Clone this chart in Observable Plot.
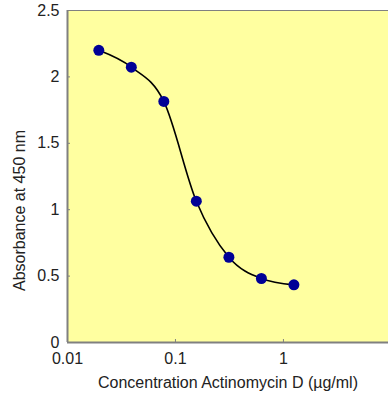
<!DOCTYPE html>
<html>
<head>
<meta charset="utf-8">
<script src="https://cdn.jsdelivr.net/npm/d3@7"></script>
<script src="https://cdn.jsdelivr.net/npm/@observablehq/plot@0.6"></script>
<style>
  html, body { margin: 0; padding: 0; background: #ffffff; }
  #chart svg { display: block; }
</style>
</head>
<body>
<div id="chart"></div>
<script>
// Concentration of Actinomycin D (µg/ml)
const concentration = [0.0195, 0.039, 0.078, 0.156, 0.3125, 0.625, 1.25];
// Absorbance at 450 nm
const absorbance = [2.2, 2.073, 1.815, 1.064, 0.642, 0.482, 0.434];
const xTicks = [0.01, 0.1, 1];
const xTickLabels = ["0.01", "0.1", "1"];
const yTicks = [0, 0.5, 1, 1.5, 2, 2.5];
const yTickLabels = ["0", "0.5", "1", "1.5", "2", "2.5"];
const xTitle = "Concentration Actinomycin D (µg/ml)";
const yTitle = "Absorbance at 450 nm";

const data = concentration.map((c, i) => ({c, a: absorbance[i]}));
const font = "Liberation Sans, Arial, Helvetica, sans-serif";

const chart = Plot.plot({
  width: 388,
  height: 396,
  marginLeft: 67,
  marginRight: 0,
  marginTop: 10,
  marginBottom: 54,
  style: {fontFamily: font, fontSize: "16px", color: "#222", background: "#ffffff"},
  x: {type: "log", domain: [0.01, 9.4]},
  y: {domain: [0, 2.5]},
  marks: [
    Plot.frame({fill: "#ffffa0", stroke: "none"}),
    Plot.ruleY([2.5], {stroke: "#808080", strokeWidth: 1}),
    Plot.axisX({
      ticks: xTicks,
      tickFormat: (d) => xTickLabels[xTicks.indexOf(d)],
      tickSize: -3,
      tickPadding: 13,
      stroke: "#808080",
      fontSize: 16,
      label: xTitle,
      labelAnchor: "center",
      labelOffset: 45,
      labelArrow: "none"
    }),
    Plot.axisY({
      ticks: yTicks,
      tickFormat: (d) => yTickLabels[yTicks.indexOf(d)],
      tickSize: -3,
      tickPadding: 11,
      stroke: "#808080",
      fontSize: 16,
      label: null
    }),
    Plot.text([yTitle], {
      frameAnchor: "left",
      textAnchor: "middle",
      rotate: -90,
      dx: -48,
      dy: 34,
      fontSize: 16,
      fill: "#222"
    }),
    Plot.ruleX([0.01], {stroke: "#808080", strokeWidth: 2}),
    Plot.ruleY([0], {stroke: "#808080", strokeWidth: 2}),
    Plot.line(data, {x: "c", y: "a", curve: "monotone-x", stroke: "#000000", strokeWidth: 1.6}),
    Plot.dot(data, {x: "c", y: "a", r: 5.5, fill: "#000096", stroke: "none"})
  ]
});
document.getElementById("chart").appendChild(chart);
</script>
</body>
</html>
